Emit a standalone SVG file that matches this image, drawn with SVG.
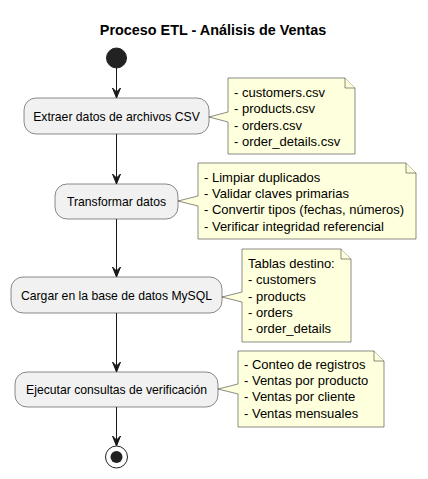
<svg xmlns="http://www.w3.org/2000/svg" width="428" height="479" viewBox="0 0 428 479">
<style>
.act{fill:#F1F1F1;stroke:#181818;stroke-width:0.5}
.note{fill:#FEFFDD;stroke:#181818;stroke-width:0.5}
.at{font-family:"Liberation Sans",Arial,sans-serif;font-size:12.2px;fill:#000;text-anchor:middle}
.nt{font-family:"Liberation Sans",Arial,sans-serif;font-size:13px;fill:#000}
.ln{stroke:#181818;stroke-width:1;fill:none}
.ah{fill:#181818;stroke:#181818;stroke-width:1}
</style>
<rect width="428" height="479" fill="#FFFFFF"/>
<text x="213" y="35" font-family="Liberation Sans,Arial,sans-serif" font-size="14.4" font-weight="bold" text-anchor="middle">Proceso ETL - Análisis de Ventas</text>
<g id="start"><circle cx="116.5" cy="58" r="10" fill="#222222" stroke="#222222"/></g>
<g id="connectors">
<line class="ln" x1="116.5" y1="68" x2="116.5" y2="97"/>
<polygon class="ah" points="112.5,88 116.5,98 120.5,88 116.5,92"/>
<line class="ln" x1="116.5" y1="134" x2="116.5" y2="183"/>
<polygon class="ah" points="112.5,174 116.5,184 120.5,174 116.5,178"/>
<line class="ln" x1="116.5" y1="219" x2="116.5" y2="276"/>
<polygon class="ah" points="112.5,267 116.5,277 120.5,267 116.5,271"/>
<line class="ln" x1="116.5" y1="313" x2="116.5" y2="371"/>
<polygon class="ah" points="112.5,362 116.5,372 120.5,362 116.5,366"/>
<line class="ln" x1="116.5" y1="407" x2="116.5" y2="445"/>
<polygon class="ah" points="112.5,436 116.5,446 120.5,436 116.5,440"/>
</g>
<g id="a1"><rect class="act" x="24" y="98" width="185" height="36" rx="12"/><text class="at" x="116.5" y="121">Extraer datos de archivos CSV</text></g>
<g id="n1"><path class="note" d="M228,78 H345 L355,88 V154 H228 V122 L209,117 L228,112 Z"/><path class="note" d="M345,78 V88 H355"/>
<text class="nt" x="234" y="97">- customers.csv</text><text class="nt" x="234" y="113">- products.csv</text><text class="nt" x="234" y="130">- orders.csv</text><text class="nt" x="234" y="146">- order_details.csv</text></g>
<g id="a2"><rect class="act" x="55" y="184" width="123" height="35" rx="12"/><text class="at" x="116.5" y="206">Transformar datos</text></g>
<g id="n2"><path class="note" d="M198,163 H406 L416,173 V239 H198 V206 L178,201 L198,196 Z"/><path class="note" d="M406,163 V173 H416"/>
<text class="nt" x="204" y="182">- Limpiar duplicados</text><text class="nt" x="204" y="198">- Validar claves primarias</text><text class="nt" x="204" y="214">- Convertir tipos (fechas, números)</text><text class="nt" x="204" y="231">- Verificar integridad referencial</text></g>
<g id="a3"><rect class="act" x="11" y="277" width="211" height="36" rx="12"/><text class="at" x="116.5" y="300">Cargar en la base de datos MySQL</text></g>
<g id="n3"><path class="note" d="M242,249 H341 L351,259 V342 H242 V302 L222,297 L242,292 Z"/><path class="note" d="M341,249 V259 H351"/>
<text class="nt" x="248" y="268">Tablas destino:</text><text class="nt" x="248" y="284">- customers</text><text class="nt" x="248" y="301">- products</text><text class="nt" x="248" y="317">- orders</text><text class="nt" x="248" y="333">- order_details</text></g>
<g id="a4"><rect class="act" x="15" y="372" width="203" height="35" rx="12"/><text class="at" x="116.5" y="394">Ejecutar consultas de verificación</text></g>
<g id="n4"><path class="note" d="M238,351 H374 L384,361 V427 H238 V394 L218,389 L238,384 Z"/><path class="note" d="M374,351 V361 H384"/>
<text class="nt" x="244" y="369">- Conteo de registros</text><text class="nt" x="244" y="385">- Ventas por producto</text><text class="nt" x="244" y="401">- Ventas por cliente</text><text class="nt" x="244" y="418">- Ventas mensuales</text></g>
<g id="end"><circle cx="116.5" cy="457" r="11" fill="none" stroke="#222222" stroke-width="1"/><circle cx="116.5" cy="457" r="6" fill="#222222"/></g>
</svg>
